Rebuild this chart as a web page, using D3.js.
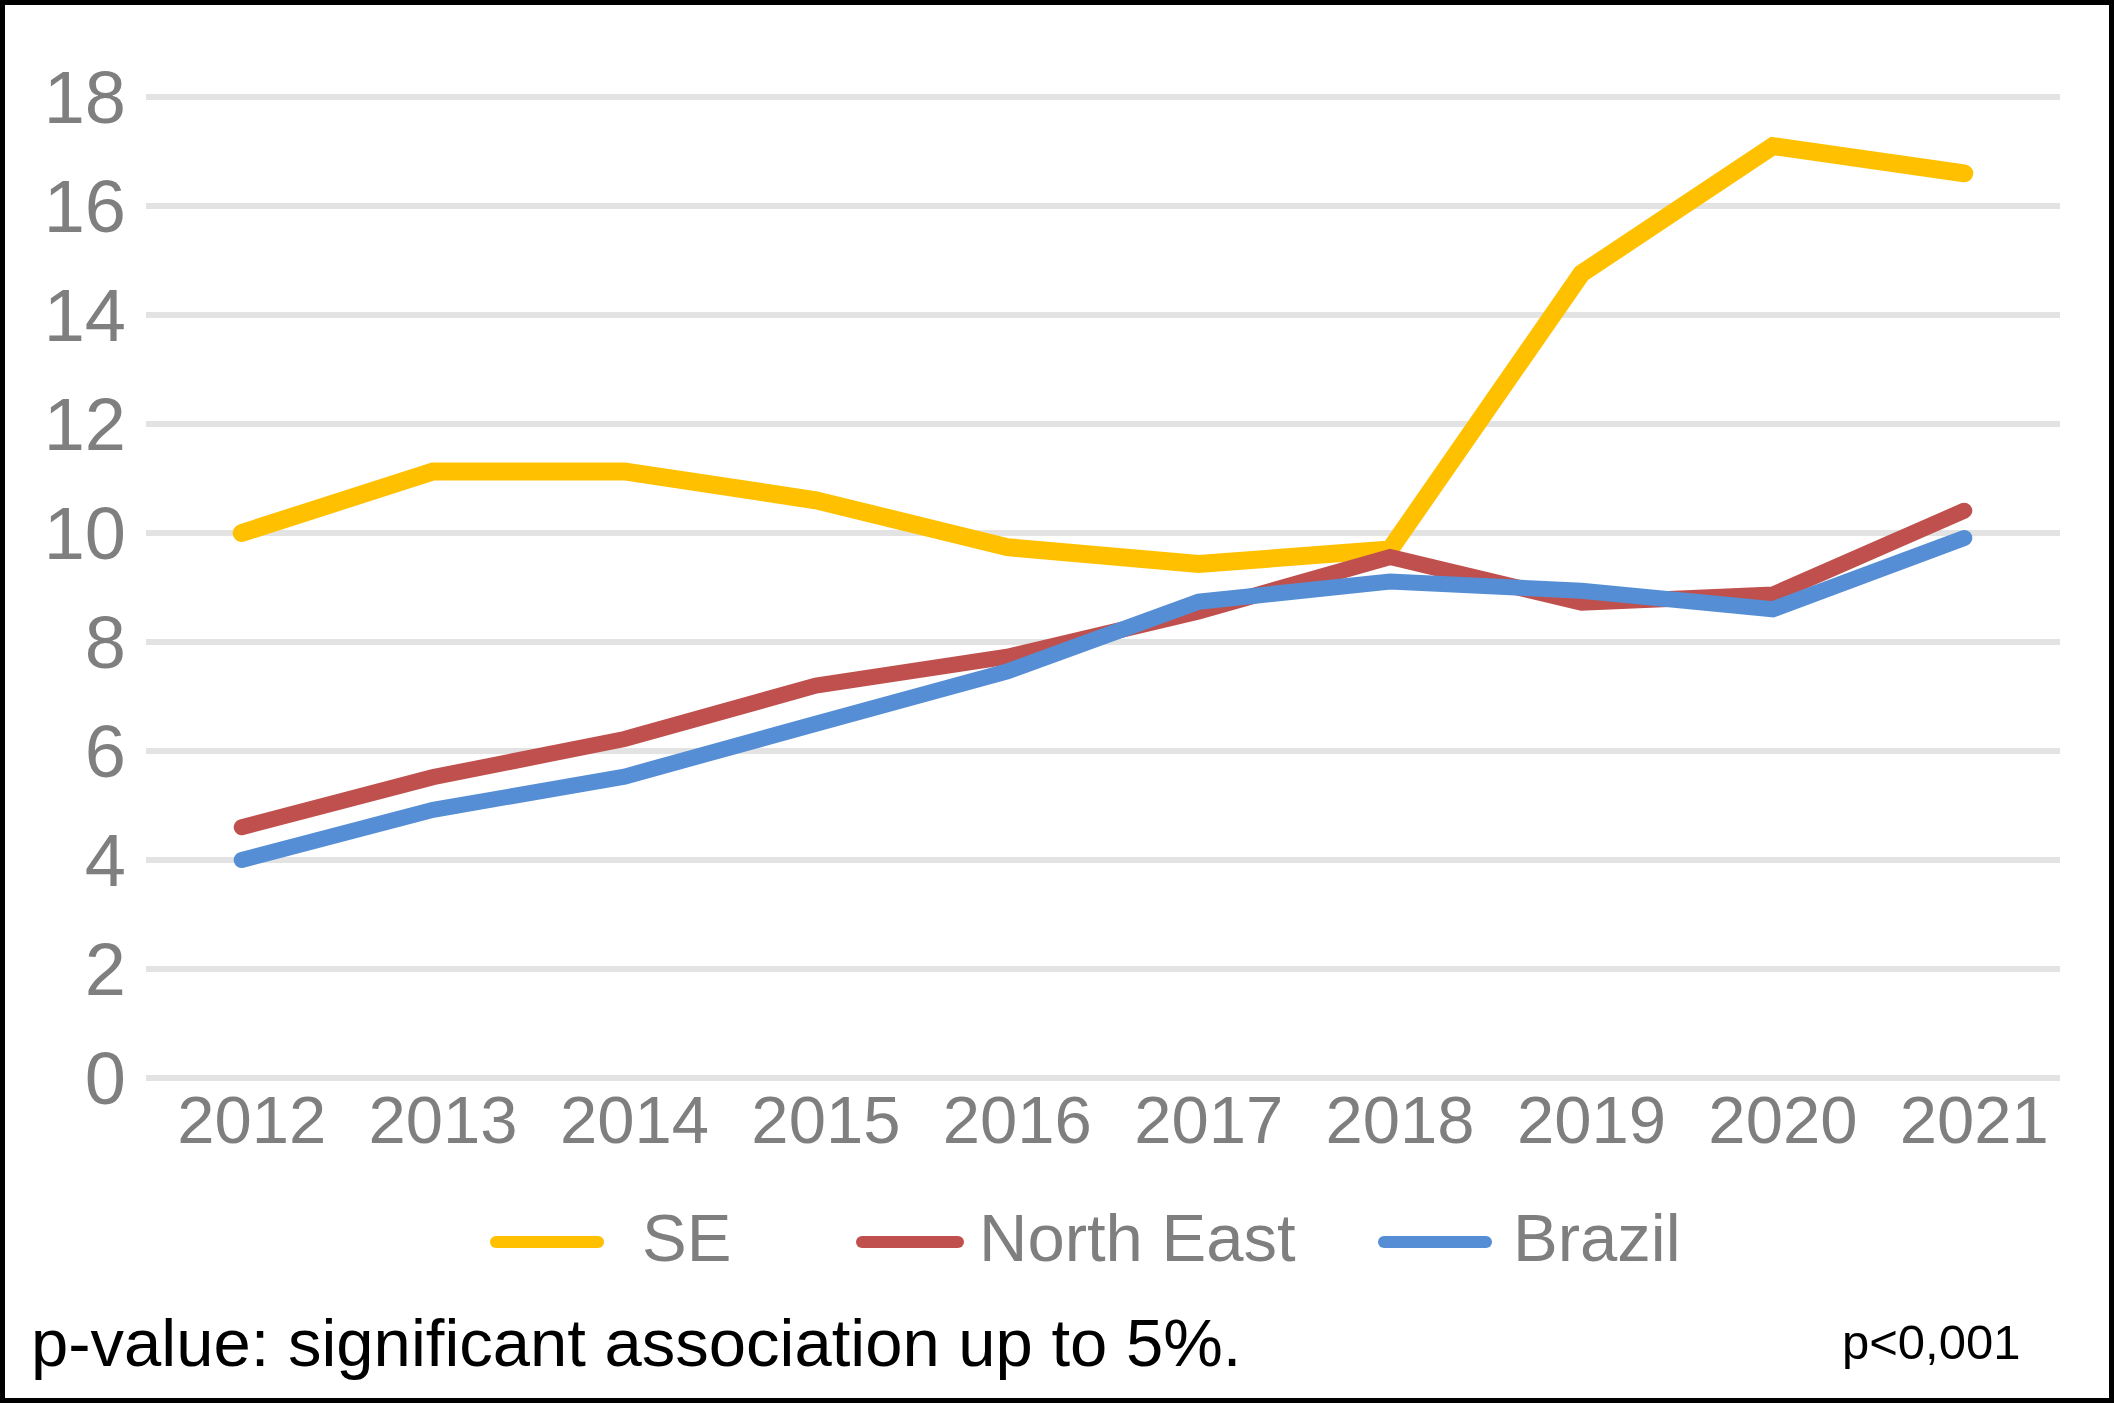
<!DOCTYPE html>
<html>
<head>
<meta charset="utf-8">
<script src="https://cdn.jsdelivr.net/npm/d3@7"></script>
<style>
  html, body { margin: 0; padding: 0; background: #fff; }
  svg text { font-family: "Liberation Sans", Arial, sans-serif; }
</style>
</head>
<body>
<div id="chart"></div>
<script>
// Chart data
const years = ['2012', '2013', '2014', '2015', '2016', '2017', '2018', '2019', '2020', '2021'];
const seValues = [10.0, 11.13, 11.13, 10.6, 9.74, 9.43, 9.7, 14.76, 17.1, 16.6];
const northEastValues = [4.6, 5.52, 6.22, 7.2, 7.73, 8.56, 9.56, 8.72, 8.87, 10.41];
const brazilValues = [4.0, 4.92, 5.53, 6.5, 7.46, 8.74, 9.11, 8.94, 8.6, 9.91];
const yTicks = [0, 2, 4, 6, 8, 10, 12, 14, 16, 18];

const seriesNames = ['SE', 'North East', 'Brazil'];
const seriesColors = ['#ffc000', '#c0504d', '#558ed5'];
const seriesWidths = [18, 16, 16];

const width = 2114;
const height = 1403;

const svg = d3.select('#chart')
  .append('svg')
  .attr('width', width)
  .attr('height', height);

svg.append('rect')
  .attr('x', 2.5)
  .attr('y', 2.5)
  .attr('width', width - 5)
  .attr('height', height - 5)
  .attr('fill', '#fff')
  .attr('stroke', '#000')
  .attr('stroke-width', 5);

// Scales
const x = d3.scaleBand()
  .domain(years)
  .range([146, 2060])
  .padding(0);

const y = d3.scaleLinear()
  .domain([0, 18])
  .range([1078, 97]);

const cx = d => x(d) + x.bandwidth() / 2;

// Gridlines
svg.append('g')
  .selectAll('line')
  .data(yTicks)
  .enter()
  .append('line')
  .attr('x1', 146)
  .attr('x2', 2060)
  .attr('y1', d => y(d))
  .attr('y2', d => y(d))
  .attr('stroke', '#e3e3e3')
  .attr('stroke-width', 6);

// Y axis labels
const yAxis = svg.append('g')
  .attr('transform', 'translate(126,0)')
  .call(d3.axisLeft(y).tickValues(yTicks).tickSize(0).tickPadding(0));
yAxis.select('.domain').remove();
yAxis.selectAll('text')
  .attr('dy', 25)
  .attr('fill', '#7f7f7f')
  .style('font-size', '74px')
  .style('font-family', '"Liberation Sans", Arial, sans-serif');

// X axis labels
const xAxis = svg.append('g')
  .attr('transform', 'translate(10,1078)')
  .call(d3.axisBottom(x).tickSize(0).tickPadding(0));
xAxis.select('.domain').remove();
xAxis.selectAll('text')
  .attr('y', 65)
  .attr('dy', 0)
  .attr('fill', '#7f7f7f')
  .style('font-size', '67px')
  .style('font-family', '"Liberation Sans", Arial, sans-serif');

// Lines
const allSeries = [seValues, northEastValues, brazilValues];
const line = d3.line()
  .x((d, i) => cx(years[i]))
  .y(d => y(d));

svg.append('g')
  .selectAll('path')
  .data(allSeries)
  .enter()
  .append('path')
  .attr('d', d => line(d))
  .attr('fill', 'none')
  .attr('stroke', (d, i) => seriesColors[i])
  .attr('stroke-width', (d, i) => seriesWidths[i])
  .attr('stroke-linecap', 'round')
  .attr('stroke-linejoin', 'miter');

// Legend
const legendItems = [
  { x1: 496, x2: 598, tx: 642 },
  { x1: 862, x2: 958, tx: 979 },
  { x1: 1384, x2: 1486, tx: 1513 }
];

const legend = svg.append('g');
legendItems.forEach((item, i) => {
  legend.append('line')
    .attr('x1', item.x1)
    .attr('x2', item.x2)
    .attr('y1', 1242)
    .attr('y2', 1242)
    .attr('stroke', seriesColors[i])
    .attr('stroke-width', 12)
    .attr('stroke-linecap', 'round');
  legend.append('text')
    .attr('x', item.tx)
    .attr('y', 1261)
    .attr('fill', '#7f7f7f')
    .style('font-size', '67px')
    .text(seriesNames[i]);
});

// Footnotes
svg.append('text')
  .attr('x', 31)
  .attr('y', 1366)
  .attr('fill', '#000')
  .style('font-size', '67px')
  .text('p-value: significant association up to 5%.');

svg.append('text')
  .attr('x', 1842)
  .attr('y', 1359)
  .attr('fill', '#000')
  .style('font-size', '49px')
  .text('p<0,001');
</script>
</body>
</html>
